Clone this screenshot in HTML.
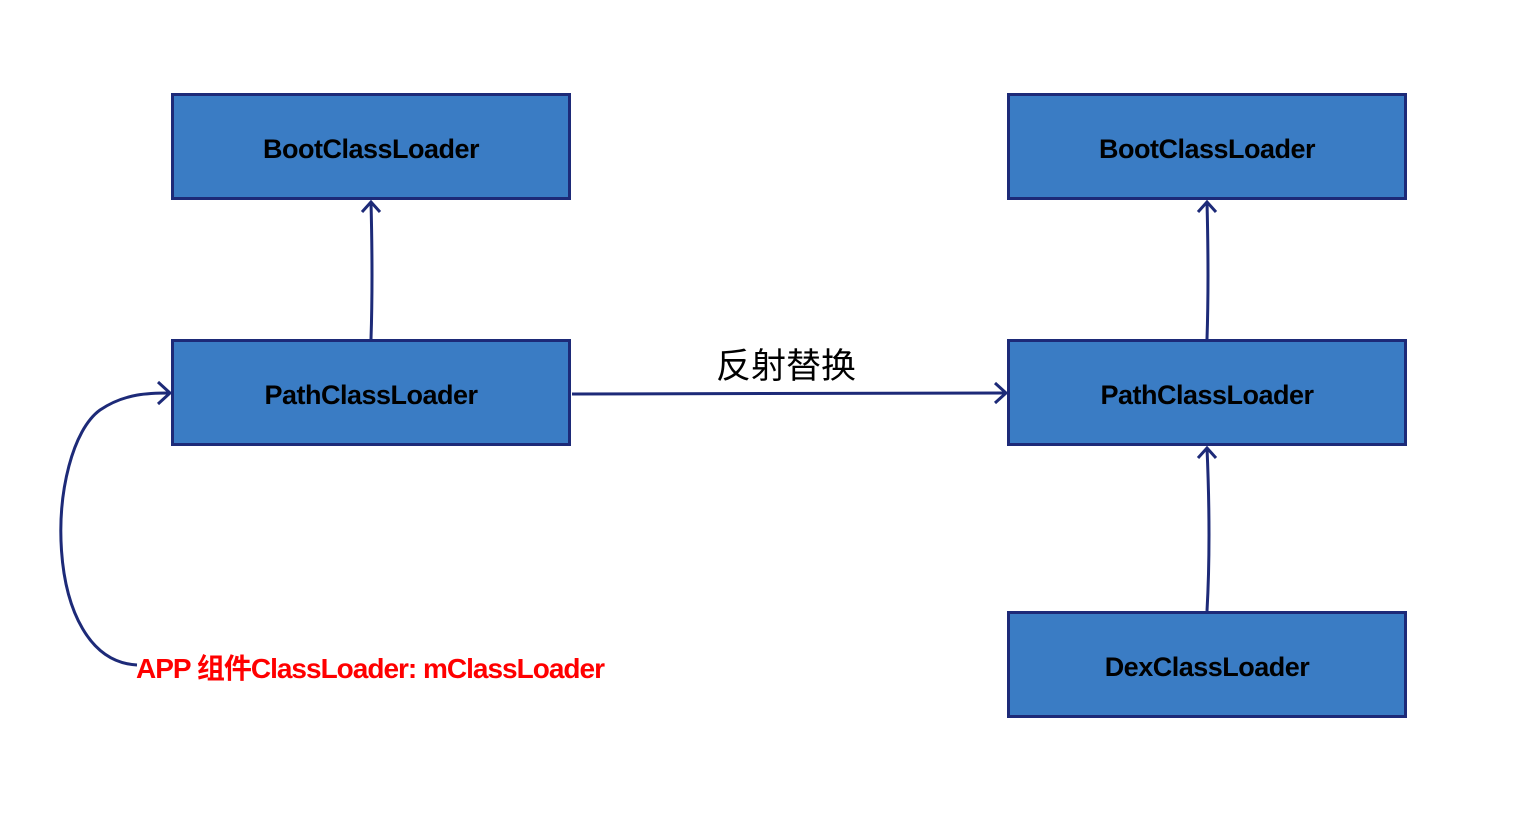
<!DOCTYPE html>
<html><head><meta charset="utf-8"><style>
body{margin:0;width:1524px;height:830px;background:#fff;position:relative;overflow:hidden}
.b{position:absolute;width:394px;height:101px;background:#3a7cc4;border:3px solid #1d2a78;display:flex;align-items:center;justify-content:center;font:bold 27px "Liberation Sans",sans-serif;color:#000;letter-spacing:-0.5px;box-sizing:content-box;padding-top:0}
.b span{position:relative;top:3px}
svg{position:absolute;left:0;top:0}
</style></head><body>
<div class="b" style="left:171px;top:93px"><span>BootClassLoader</span></div>
<div class="b" style="left:171px;top:339px"><span>PathClassLoader</span></div>
<div class="b" style="left:1007px;top:93px"><span>BootClassLoader</span></div>
<div class="b" style="left:1007px;top:339px"><span>PathClassLoader</span></div>
<div class="b" style="left:1007px;top:611px"><span>DexClassLoader</span></div>
<svg width="1524" height="830" fill="none" stroke="#1d2a78" stroke-width="3">
<path d="M371 339 Q373 280 371 202"/><path d="M362 212 L371 202 L380 212"/>
<path d="M1207 339 Q1209 280 1207 202"/><path d="M1198 212 L1207 202 L1216 212"/>
<path d="M1207 611 Q1211 540 1207 448"/><path d="M1198 458 L1207 448 L1216 458"/>
<path d="M572 394 L1005 393"/><path d="M995 383 L1006 393 L995 403"/>
<path d="M137 665 C40 660 45 450 100 410 C125 393 150 393 170 393"/><path d="M158 382 L170 393 L158 404"/>
</svg>
<div style="position:absolute;left:716px;top:338px;font:35px 'Liberation Sans','Noto Sans CJK SC',sans-serif;color:#000">反射替换</div>
<div style="position:absolute;left:136px;top:647px;font:bold 28px 'Liberation Sans','Noto Sans CJK SC',sans-serif;color:#f00;letter-spacing:-1px;white-space:nowrap">APP 组件ClassLoader: mClassLoader</div>
</body></html>
